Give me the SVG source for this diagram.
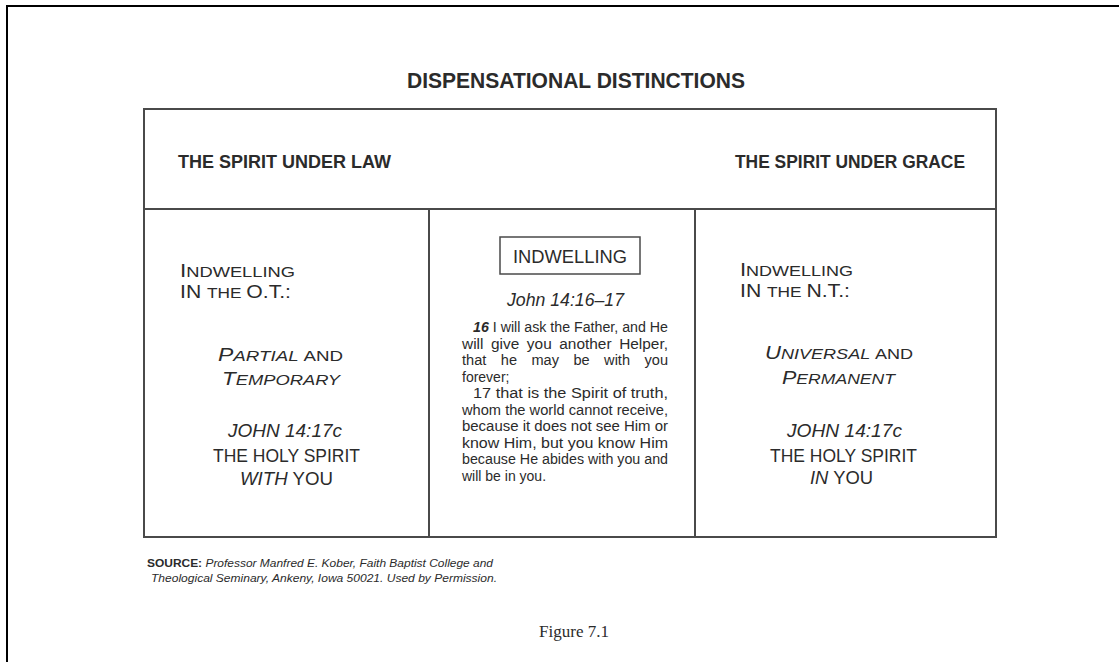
<svg xmlns="http://www.w3.org/2000/svg" width="1119" height="662" viewBox="0 0 1119 662">
<style>
text{font-family:"Liberation Sans",Arial,sans-serif;fill:#2b2b2b}
.title{font-size:22px;font-weight:bold}
.hdr{font-size:19px;font-weight:bold}
.cap{font-size:19px}
.sc{font-size:15.5px}
.it{font-style:italic}
.body{font-size:14px}
.src{font-size:11.5px;font-style:italic}
.fig{font-family:"Liberation Serif","Times New Roman",serif;font-size:17px}
.line{stroke:#4a4a4a;stroke-width:2;fill:none}
</style>
<rect x="0" y="0" width="1119" height="662" fill="#ffffff"/>
<g id="page-border">
<line x1="6" y1="6" x2="1119" y2="6" stroke="#000" stroke-width="2"/>
<line x1="7" y1="5" x2="7" y2="662" stroke="#000" stroke-width="2"/>
</g>
<g id="title">
<text class="title" x="407" y="88" textLength="338" lengthAdjust="spacingAndGlyphs">DISPENSATIONAL DISTINCTIONS</text>
</g>
<g id="table" class="line">
<rect x="144" y="109" width="852" height="428"/>
<line x1="144" y1="209" x2="996" y2="209"/>
<line x1="429" y1="209" x2="429" y2="537"/>
<line x1="695" y1="209" x2="695" y2="537"/>
</g>
<g id="header-law">
<text class="hdr" x="178" y="168" textLength="213" lengthAdjust="spacingAndGlyphs">THE SPIRIT UNDER LAW</text>
</g>
<g id="header-grace">
<text class="hdr" x="735" y="168" textLength="230" lengthAdjust="spacingAndGlyphs">THE SPIRIT UNDER GRACE</text>
</g>
<g id="cell-ot">
<text x="180" y="277" textLength="115" lengthAdjust="spacingAndGlyphs"><tspan class="cap">I</tspan><tspan class="sc">NDWELLING</tspan></text>
<text x="180" y="298" textLength="111" lengthAdjust="spacingAndGlyphs"><tspan class="cap">IN </tspan><tspan class="sc">THE </tspan><tspan class="cap">O.T.:</tspan></text>
<text x="218" y="361" textLength="125" lengthAdjust="spacingAndGlyphs"><tspan class="cap it">P</tspan><tspan class="sc it">ARTIAL </tspan><tspan class="sc">AND</tspan></text>
<text x="222" y="385" textLength="118" lengthAdjust="spacingAndGlyphs"><tspan class="cap it">T</tspan><tspan class="sc it">EMPORARY</tspan></text>
<text class="it" x="228" y="437" textLength="114" lengthAdjust="spacingAndGlyphs" style="font-size:18px">JOHN 14:17c</text>
<text x="213" y="462" textLength="147" lengthAdjust="spacingAndGlyphs" style="font-size:18px">THE HOLY SPIRIT</text>
<text x="240" y="485" textLength="93" lengthAdjust="spacingAndGlyphs" style="font-size:18px"><tspan class="it">WITH</tspan> YOU</text>
</g>
<g id="cell-center">
<rect x="500" y="237" width="140" height="37" fill="none" stroke="#4a4a4a" stroke-width="1.5"/>
<text x="513" y="263" textLength="114" lengthAdjust="spacingAndGlyphs" style="font-size:18px">INDWELLING</text>
<text class="it" x="507" y="306" textLength="117" lengthAdjust="spacingAndGlyphs" style="font-size:18px">John 14:16–17</text>
<text class="body" x="473" y="332" textLength="195" lengthAdjust="spacingAndGlyphs"><tspan font-style="italic" font-weight="bold">16</tspan> I will ask the Father, and He</text>
<text class="body" x="462" y="348.5" textLength="206" lengthAdjust="spacingAndGlyphs" word-spacing="3">will give you another Helper,</text>
<text class="body" x="462" y="365" textLength="206" lengthAdjust="spacingAndGlyphs" word-spacing="10">that he may be with you</text>
<text class="body" x="462" y="381.5">forever;</text>
<text class="body" x="473" y="398" textLength="195" lengthAdjust="spacingAndGlyphs">17 that is the Spirit of truth,</text>
<text class="body" x="462" y="414.5" textLength="206" lengthAdjust="spacingAndGlyphs">whom the world cannot receive,</text>
<text class="body" x="462" y="431" textLength="206" lengthAdjust="spacingAndGlyphs">because it does not see Him or</text>
<text class="body" x="462" y="447.5" textLength="206" lengthAdjust="spacingAndGlyphs">know Him, but you know Him</text>
<text class="body" x="462" y="464" textLength="206" lengthAdjust="spacingAndGlyphs">because He abides with you and</text>
<text class="body" x="462" y="480.5">will be in you.</text>
</g>
<g id="cell-nt">
<text x="740" y="276" textLength="113" lengthAdjust="spacingAndGlyphs"><tspan class="cap">I</tspan><tspan class="sc">NDWELLING</tspan></text>
<text x="740" y="297" textLength="110" lengthAdjust="spacingAndGlyphs"><tspan class="cap">IN </tspan><tspan class="sc">THE </tspan><tspan class="cap">N.T.:</tspan></text>
<text x="765" y="359" textLength="148" lengthAdjust="spacingAndGlyphs"><tspan class="cap it">U</tspan><tspan class="sc it">NIVERSAL </tspan><tspan class="sc">AND</tspan></text>
<text x="782" y="384" textLength="113" lengthAdjust="spacingAndGlyphs"><tspan class="cap it">P</tspan><tspan class="sc it">ERMANENT</tspan></text>
<text class="it" x="787" y="437" textLength="115" lengthAdjust="spacingAndGlyphs" style="font-size:18px">JOHN 14:17c</text>
<text x="770" y="462" textLength="147" lengthAdjust="spacingAndGlyphs" style="font-size:18px">THE HOLY SPIRIT</text>
<text x="810" y="484" textLength="63" lengthAdjust="spacingAndGlyphs" style="font-size:18px"><tspan class="it">IN</tspan> YOU</text>
</g>
<g id="source">
<text class="src" x="147" y="567" textLength="346" lengthAdjust="spacingAndGlyphs"><tspan font-style="normal" font-weight="bold">SOURCE:</tspan> Professor Manfred E. Kober, Faith Baptist College and</text>
<text class="src" x="151" y="582" textLength="346" lengthAdjust="spacingAndGlyphs">Theological Seminary, Ankeny, Iowa 50021. Used by Permission.</text>
</g>
<g id="figure-label">
<text class="fig" x="539" y="637" textLength="70" lengthAdjust="spacingAndGlyphs">Figure 7.1</text>
</g>
</svg>
